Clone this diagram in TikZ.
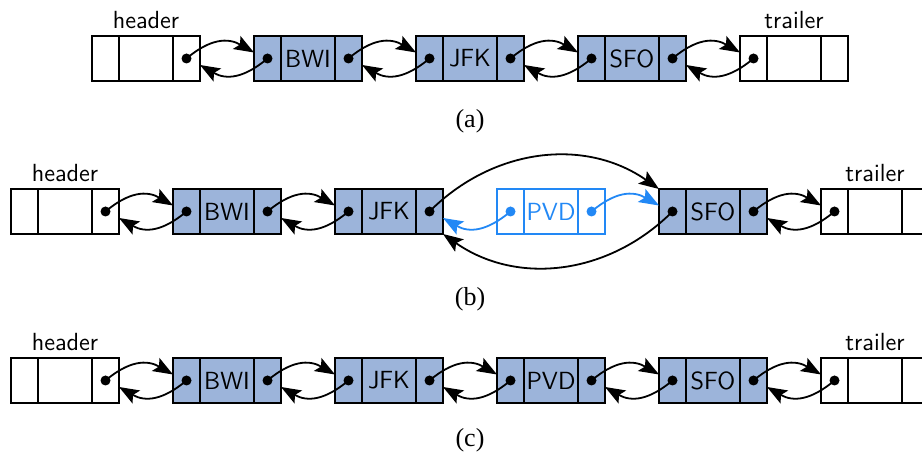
\documentclass[tikz,border=0pt]{standalone}
\usepackage{fontspec}
\setmainfont{Liberation Serif}
\usetikzlibrary{arrows.meta,positioning,calc}
\definecolor{NodeFill}{HTML}{9CB4DA}
\definecolor{NewBlue}{HTML}{2288F5}
% one list node: prev cell, element, next cell
\newcommand{\lnode}[4]{%
 \node[cell,#4] (#1-p) at (#2) {};
 \node[elem,#4,right=0pt of #1-p] (#1-e) {#3};
 \node[cell,#4,right=0pt of #1-e] (#1-n) {};}

\begin{document}
\begin{tikzpicture}[x=0.5pt,y=0.5pt,font=\sffamily\fontsize{12.4}{14}\selectfont,
 >={Stealth[length=10pt,width=7.5pt,inset=2pt]},
 cell/.style={draw,line width=0.6pt,outer sep=0pt,inner sep=0pt,
  minimum width=13.5pt,minimum height=22.5pt},
 elem/.style={cell,minimum width=27pt},
 full/.style={fill=NodeFill},
 new/.style={draw=NewBlue,text=NewBlue},
 fwd/.style={->,line width=0.9pt,out=40,in=150,looseness=1.15},
 bwd/.style={->,line width=0.9pt,out=220,in=-30,looseness=1.15},
 caption/.style={font=\rmfamily\fontsize{13}{15}\selectfont}]
\useasboundingbox (0,0) rectangle (922,455);

% (a)
\lnode{ah}{105.5,396.5}{}{}
\lnode{ab}{267.5,396.5}{BWI}{full}
\lnode{aj}{429.5,396.5}{JFK}{full}
\lnode{as}{591.5,396.5}{SFO}{full}
\lnode{at}{753.5,396.5}{}{}
\node[above=0pt of ah-e] (ahl) {header};
\node[above=0pt of at-e] (atl) {trailer};
\foreach \u/\v in {ah/ab,ab/aj,aj/as,as/at}{
 \draw[fwd] (\u-n.center) to ($(\v-p.west)+(0,6)$);
 \draw[bwd] (\v-p.center) to ($(\u-n.east)+(0,-6.5)$);}
\foreach \u in {ah-n,ab-p,ab-n,aj-p,aj-n,as-p,as-n,at-p}
 \fill (\u) circle (5);
\node[caption] (capa) at (470,334) {(a)};

% (b)
\lnode{bh}{24.5,243.5}{}{}
\lnode{bb}{186.5,243.5}{BWI}{full}
\lnode{bj}{348.5,243.5}{JFK}{full}
\lnode{bp}{510.5,243.5}{PVD}{new}
\lnode{bs}{672.5,243.5}{SFO}{full}
\lnode{bt}{834.5,243.5}{}{}
\node[above=0pt of bh-e] (bhl) {header};
\node[above=0pt of bt-e] (btl) {trailer};
\foreach \u/\v in {bh/bb,bb/bj,bs/bt}{
 \draw[fwd] (\u-n.center) to ($(\v-p.west)+(0,6)$);
 \draw[bwd] (\v-p.center) to ($(\u-n.east)+(0,-6.5)$);}
\draw[->,line width=0.9pt] (bj-n.center) to[out=45,in=145] (bs-p.north west);
\draw[->,line width=0.9pt] (bs-p.center) to[out=225,in=-35] (bj-n.south east);
\draw[fwd,NewBlue] (bp-n.center) to ($(bs-p.west)+(0,6)$);
\draw[bwd,NewBlue] (bp-p.center) to ($(bj-n.east)+(0,-6.5)$);
\foreach \u in {bh-n,bb-p,bb-n,bj-p,bj-n,bs-p,bs-n,bt-p}
 \fill (\u) circle (5);
\fill[NewBlue] (bp-p) circle (5) (bp-n) circle (5);
\node[caption] (capb) at (470,156) {(b)};

% (c)
\lnode{ch}{24.5,74.5}{}{}
\lnode{cb}{186.5,74.5}{BWI}{full}
\lnode{cj}{348.5,74.5}{JFK}{full}
\lnode{cp}{510.5,74.5}{PVD}{full}
\lnode{cs}{672.5,74.5}{SFO}{full}
\lnode{ct}{834.5,74.5}{}{}
\node[above=0pt of ch-e] (chl) {header};
\node[above=0pt of ct-e] (ctl) {trailer};
\foreach \u/\v in {ch/cb,cb/cj,cj/cp,cp/cs,cs/ct}{
 \draw[fwd] (\u-n.center) to ($(\v-p.west)+(0,6)$);
 \draw[bwd] (\v-p.center) to ($(\u-n.east)+(0,-6.5)$);}
\foreach \u in {ch-n,cb-p,cb-n,cj-p,cj-n,cp-p,cp-n,cs-p,cs-n,ct-p}
 \fill (\u) circle (5);
\node[caption] (capc) at (470,15) {(c)};
\end{tikzpicture}
\end{document}
